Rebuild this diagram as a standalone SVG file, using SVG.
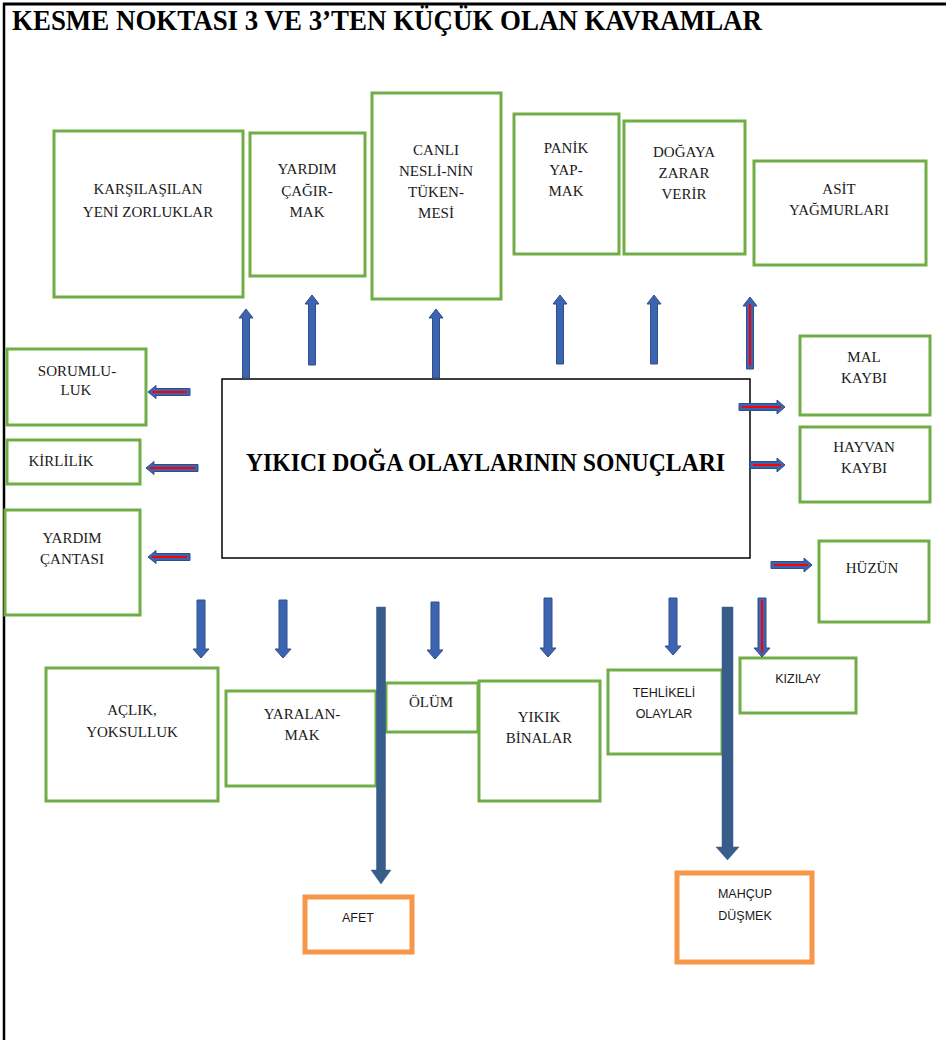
<svg xmlns="http://www.w3.org/2000/svg" width="946" height="1040" viewBox="0 0 946 1040">
  <style>
    .serif { font-family: "Liberation Serif", "Times New Roman", serif; font-size: 15px; fill: #1a1a1a; text-anchor: middle; }
    .sans { font-family: "Liberation Sans", Arial, sans-serif; font-size: 12.5px; fill: #1a1a1a; text-anchor: middle; }
    .title { font-family: "Liberation Serif", "Times New Roman", serif; font-weight: bold; fill: #000; }
    .green { fill: #fff; stroke: #70AD47; stroke-width: 3; }
    .orange { fill: #fff; stroke: #F79646; stroke-width: 5; }
    .arrow { fill: #3C64B1; stroke: #2F4F8C; stroke-width: 1; }
    .big { fill: #385D8A; stroke: #385D8A; stroke-width: 0.5; }
    .red { stroke: #FF0000; stroke-width: 2; fill: none; }
  </style>

  <rect x="0" y="0" width="946" height="1040" fill="#fff"/>

  <!-- page frame -->
  <g id="frame">
    <line x1="3" y1="4" x2="946" y2="4" stroke="#000" stroke-width="3"/>
    <line x1="4" y1="3" x2="4" y2="1040" stroke="#000" stroke-width="2.5"/>
  </g>

  <text id="title" class="title" x="12" y="30" font-size="29" textLength="750" lengthAdjust="spacingAndGlyphs">KESME NOKTASI 3 VE 3’TEN KÜÇÜK OLAN KAVRAMLAR</text>

  <!-- central node -->
  <g id="center">
    <rect x="222" y="379" width="528" height="179" fill="#fff" stroke="#000" stroke-width="1.5"/>
    <text class="title" x="246" y="471" font-size="25" textLength="479" lengthAdjust="spacingAndGlyphs">YIKICI DOĞA OLAYLARININ SONUÇLARI</text>
  </g>

  <!-- top row -->
  <g id="karsilasilan">
    <rect class="green" x="54" y="131" width="189" height="166"/>
    <text class="serif" x="148" y="194">KARŞILAŞILAN</text>
    <text class="serif" x="148" y="217">YENİ ZORLUKLAR</text>
  </g>
  <g id="yardim-cagirmak">
    <rect class="green" x="250" y="133" width="115" height="143"/>
    <text class="serif" x="307" y="174">YARDIM</text>
    <text class="serif" x="307" y="195.5">ÇAĞIR-</text>
    <text class="serif" x="307" y="217">MAK</text>
  </g>
  <g id="canli-nesli">
    <rect class="green" x="372" y="93" width="129" height="206"/>
    <text class="serif" x="436" y="155">CANLI</text>
    <text class="serif" x="436" y="176">NESLİ-NİN</text>
    <text class="serif" x="436" y="197">TÜKEN-</text>
    <text class="serif" x="436" y="218">MESİ</text>
  </g>
  <g id="panik">
    <rect class="green" x="514" y="114" width="105" height="140"/>
    <text class="serif" x="566" y="153">PANİK</text>
    <text class="serif" x="566" y="175">YAP-</text>
    <text class="serif" x="566" y="196">MAK</text>
  </g>
  <g id="dogaya-zarar">
    <rect class="green" x="624" y="121" width="121" height="133"/>
    <text class="serif" x="684" y="157">DOĞAYA</text>
    <text class="serif" x="684" y="178">ZARAR</text>
    <text class="serif" x="684" y="199">VERİR</text>
  </g>
  <g id="asit">
    <rect class="green" x="754" y="161" width="172" height="104"/>
    <text class="serif" x="839" y="194">ASİT</text>
    <text class="serif" x="839" y="215">YAĞMURLARI</text>
  </g>

  <!-- left column -->
  <g id="sorumluluk">
    <rect class="green" x="7" y="349" width="139" height="76"/>
    <text class="serif" x="77" y="376">SORUMLU-</text>
    <text class="serif" x="76" y="395">LUK</text>
  </g>
  <g id="kirlilik">
    <rect class="green" x="7" y="440" width="133" height="44"/>
    <text class="serif" x="61" y="466">KİRLİLİK</text>
  </g>
  <g id="yardim-cantasi">
    <rect class="green" x="5" y="510" width="135" height="105"/>
    <text class="serif" x="72" y="543">YARDIM</text>
    <text class="serif" x="72" y="564">ÇANTASI</text>
  </g>

  <!-- right column -->
  <g id="mal-kaybi">
    <rect class="green" x="800" y="336" width="130" height="79"/>
    <text class="serif" x="864" y="362">MAL</text>
    <text class="serif" x="864" y="383">KAYBI</text>
  </g>
  <g id="hayvan-kaybi">
    <rect class="green" x="800" y="427" width="130" height="75"/>
    <text class="serif" x="864" y="452">HAYVAN</text>
    <text class="serif" x="864" y="473">KAYBI</text>
  </g>
  <g id="huzun">
    <rect class="green" x="819" y="541" width="110" height="81"/>
    <text class="serif" x="872" y="573">HÜZÜN</text>
  </g>

  <!-- bottom row -->
  <g id="aclik">
    <rect class="green" x="46" y="668" width="172" height="133"/>
    <text class="serif" x="132" y="715">AÇLIK,</text>
    <text class="serif" x="132" y="737">YOKSULLUK</text>
  </g>
  <g id="yaralanmak">
    <rect class="green" x="226" y="691" width="150" height="95"/>
    <text class="serif" x="302" y="719">YARALAN-</text>
    <text class="serif" x="302" y="740">MAK</text>
  </g>
  <g id="olum">
    <rect class="green" x="386" y="683" width="92" height="49"/>
    <text class="serif" x="431" y="707">ÖLÜM</text>
  </g>
  <g id="yikik-binalar">
    <rect class="green" x="479" y="681" width="121" height="120"/>
    <text class="serif" x="539" y="722">YIKIK</text>
    <text class="serif" x="539" y="743">BİNALAR</text>
  </g>
  <g id="tehlikeli">
    <rect class="green" x="608" y="670" width="114" height="84"/>
    <text class="sans" x="664" y="697">TEHLİKELİ</text>
    <text class="sans" x="664" y="718">OLAYLAR</text>
  </g>
  <g id="kizilay">
    <rect class="green" x="740" y="658" width="116" height="55"/>
    <text class="sans" x="798" y="683">KIZILAY</text>
  </g>

  <!-- orange nodes -->
  <g id="afet">
    <rect class="orange" x="305" y="897" width="107" height="55"/>
    <text class="sans" x="358" y="922">AFET</text>
  </g>
  <g id="mahcup">
    <rect class="orange" x="677" y="873" width="135" height="89"/>
    <text class="sans" x="745" y="898">MAHÇUP</text>
    <text class="sans" x="745" y="920">DÜŞMEK</text>
  </g>

  <!-- connectors, drawn over the node borders -->
  <g id="connectors">
    <!-- upward arrows -->
    <path class="arrow" d="M242.5 378 V318 H239 L246 309 L253 318 H249.5 V378Z"/>
    <path class="arrow" d="M308.5 365 V304 H305 L312 295 L319 304 H315.5 V365Z"/>
    <path class="arrow" d="M432.5 378 V318 H429 L436 309 L443 318 H439.5 V378Z"/>
    <path class="arrow" d="M556.5 364 V304 H553 L560 295 L567 304 H563.5 V364Z"/>
    <path class="arrow" d="M650.5 364 V304 H647 L654 295 L661 304 H657.5 V364Z"/>
    <path class="arrow" d="M746.5 369 V306 H743 L750 297 L757 306 H753.5 V369Z"/>
    <line class="red" x1="750" y1="304" x2="750" y2="366"/>

    <!-- leftward arrows -->
    <path class="arrow" d="M190 388.5 H156 V385.5 L148 392 L156 398.5 V395.5 H190Z"/>
    <line class="red" x1="152" y1="392" x2="187" y2="392"/>
    <path class="arrow" d="M198 464.5 H154 V461.5 L146 468 L154 474.5 V471.5 H198Z"/>
    <line class="red" x1="150" y1="468" x2="195" y2="468"/>
    <path class="arrow" d="M190 553.5 H156 V550.5 L148 557 L156 563.5 V560.5 H190Z"/>
    <line class="red" x1="152" y1="557" x2="187" y2="557"/>

    <!-- rightward arrows -->
    <path class="arrow" d="M739 403.5 H777 V400 L785 407 L777 414 V410.5 H739Z"/>
    <line class="red" x1="742" y1="407" x2="781" y2="407"/>
    <path class="arrow" d="M750 461.5 H777 V458 L785 465 L777 472 V468.5 H750Z"/>
    <line class="red" x1="753" y1="465" x2="781" y2="465"/>
    <path class="arrow" d="M771 561.5 H804 V558 L812 565 L804 572 V568.5 H771Z"/>
    <line class="red" x1="774" y1="565" x2="808" y2="565"/>

    <!-- downward arrows -->
    <path class="arrow" d="M197 600 V649 H193 L201 658 L209 649 H205 V600Z"/>
    <path class="arrow" d="M279 600 V649 H275 L283 658 L291 649 H287 V600Z"/>
    <path class="arrow" d="M431 602 V650 H427 L435 659 L443 650 H439 V602Z"/>
    <path class="arrow" d="M544 598 V648 H540 L548 657 L556 648 H552 V598Z"/>
    <path class="arrow" d="M669 598 V646 H665 L673 655 L681 646 H677 V598Z"/>
    <path class="arrow" d="M758 598 V648 H754 L762 657 L770 648 H766 V598Z"/>
    <line class="red" x1="762" y1="600" x2="762" y2="653"/>

    <!-- long arrows -->
    <path class="big" d="M376.5 607 V870 H371 L381 884 L391 870 H385.5 V607Z"/>
    <path class="big" d="M722 607 V847 H716 L727.5 860 L739 847 H733 V607Z"/>
  </g>
</svg>
